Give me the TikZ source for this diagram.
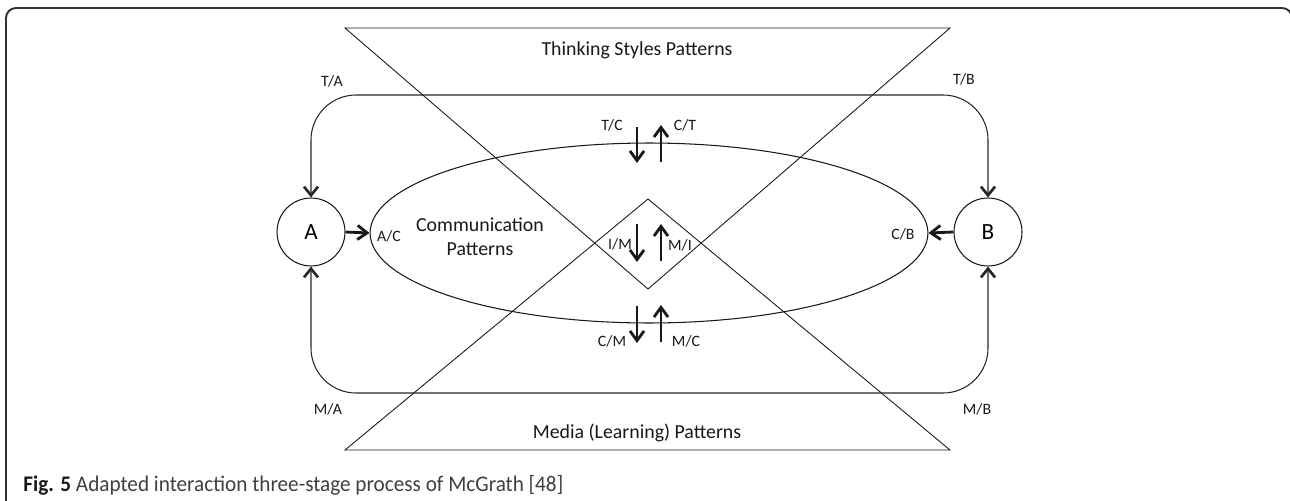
\documentclass[tikz,border=0pt]{standalone}
\usepackage{fontspec}
\setmainfont{Carlito}
\usetikzlibrary{arrows.meta,shapes.geometric}
\begin{document}
\begin{tikzpicture}[x=0.02cm,y=-0.02cm,
  thin line/.style={line width=0.5pt,draw=black!90},
  conn/.style={line width=0.6pt,draw=black!85,rounded corners=0.9cm,
    {Straight Barb[length=5pt,width=8pt,line width=1.5pt]}-{Straight Barb[length=5pt,width=8pt,line width=1.5pt]}},
  flow/.style={line width=1.6pt,draw=black!90,-{Straight Barb[length=5.5pt,width=8pt]}},
  agent/.style={circle,draw=black!90,line width=0.6pt,minimum size=1.36cm,inner sep=0pt,
    font=\fontsize{13.2}{15}\selectfont},
  tag/.style={font=\fontsize{9}{10.5}\selectfont,text=black!90,inner sep=0pt},
  heading/.style={font=\fontsize{11.3}{13.5}\selectfont,text=black!90,inner sep=0pt,align=center}]
\useasboundingbox (0,0) rectangle (1290,500);

% outer frame (only its left, top and top-right corner fall inside the page)
\draw[line width=1.1pt,draw=black!80,rounded corners=0.2cm] (6,520) -- (6,8) -- (1292,8) -- (1292,520);

% thinking styles (upper) and media (lower) triangles
\draw[thin line] (345,28) -- (950,28) -- (648,289) -- cycle;
\draw[thin line] (345,450) -- (950,450) -- (648,199) -- cycle;

% communication ellipse and the two agents
\node[ellipse,draw=black!90,line width=0.6pt,minimum width=11.16cm,minimum height=3.6cm,inner sep=0pt] (comm) at (649,233) {};
\node[agent] (A) at (311,232) {A};
\node[agent] (B) at (988,232) {B};

\node[heading] (think) at (637,50) {Thinking Styles Patterns};
\node[heading] (media) at (637,433) {Media (Learning) Patterns};
\node[heading] (commtxt) at (480,237) {Communication\\Patterns};

% loops from the thinking and media levels to the agents
\draw[conn] (A.north) -- (A.north |- 0,95) -- (B.north |- 0,95) -- (B.north);
\draw[conn] (A.south) -- (A.south |- 0,393) -- (B.south |- 0,393) -- (B.south);

% agents feeding communication
\draw[flow] (A.east) -- (comm.west);
\draw[flow] (B.west) -- (comm.east);

% vertical exchanges through the levels
\coordinate (tc1) at (637,127); \coordinate (tc2) at (637,163);
\coordinate (ct1) at (661,162); \coordinate (ct2) at (661,125);
\coordinate (im1) at (637,224); \coordinate (im2) at (637,262);
\coordinate (mi1) at (661,261); \coordinate (mi2) at (661,224);
\coordinate (cm1) at (637,306); \coordinate (cm2) at (637,343);
\coordinate (mc1) at (661,342); \coordinate (mc2) at (661,305);
\draw[flow] (tc1) -- (tc2);
\draw[flow] (ct1) -- (ct2);
\draw[flow] (im1) -- (im2);
\draw[flow] (mi1) -- (mi2);
\draw[flow] (cm1) -- (cm2);
\draw[flow] (mc1) -- (mc2);

% labels
\node[tag] (lTA) at (332,81) {T/A};
\node[tag] (lTB) at (964,79) {T/B};
\node[tag] (lTC) at (612,125) {T/C};
\node[tag] (lCT) at (685,125) {C/T};
\node[tag] (lIM) at (620,244) {I/M};
\node[tag] (lMI) at (680,245) {M/I};
\node[tag] (lCM) at (612,341) {C/M};
\node[tag] (lMC) at (686,341) {M/C};
\node[tag] (lAC) at (389,236) {A/C};
\node[tag] (lCB) at (903,234) {C/B};
\node[tag] (lMA) at (328,409) {M/A};
\node[tag] (lMB) at (977,409) {M/B};

% caption
\node[anchor=base west,inner sep=0pt,text=black!75] (cap) at (23,491)
  {\resizebox{307.3pt}{\height}{\fontsize{12.7}{15}\selectfont\textbf{\color{black!90}Fig. 5} Adapted interaction three-stage process of McGrath [48]}};
\end{tikzpicture}
\end{document}
